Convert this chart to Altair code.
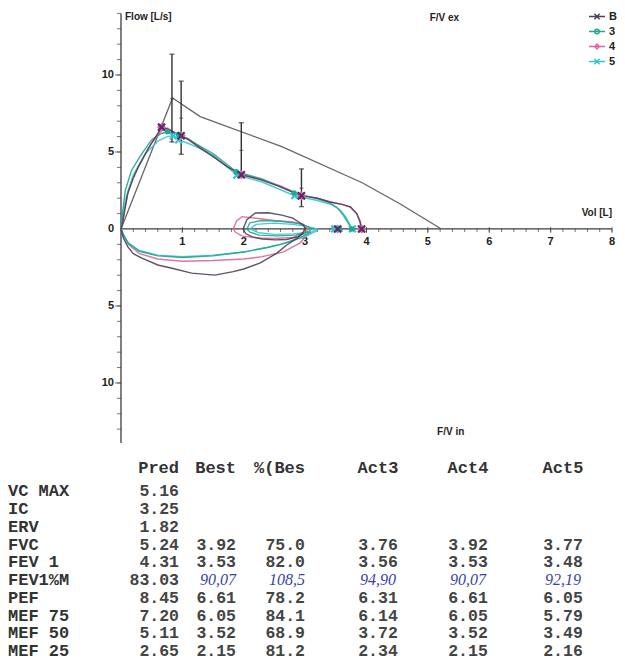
import altair as alt
import pandas as pd

# ---------------- data ----------------
SERIES = ["B", "3", "4", "5"]
SERIES_COLORS = ["#4f3f5a", "#1fa88a", "#e0649f", "#38c3d5"]
MARKER_COLORS = {"B": "#5a2a6a", "3": "#1fa88a", "4": "#e0649f", "5": "#38c3d5"}

# forced expiration (flow up)
EXP_VOL_B = [0, 0.02, 0.06, 0.11, 0.2, 0.28, 0.36, 0.44, 0.52, 0.6, 0.66, 0.75, 0.85, 0.98, 1.1, 1.29, 1.5, 1.73, 1.96, 2.27, 2.59, 2.94, 3.2, 3.4, 3.6, 3.74, 3.84, 3.89, 3.92]
EXP_FLOW_B = [0, 0.3, 1.2, 2.3, 3.3, 4.0, 4.6, 5.2, 5.7, 6.2, 6.61, 6.5, 6.3, 6.05, 5.8, 5.25, 4.7, 4.05, 3.52, 3.2, 2.75, 2.15, 2.0, 1.75, 1.6, 1.43, 1.0, 0.5, 0]
EXP_VOL_3 = [0, 0.03, 0.07, 0.17, 0.34, 0.5, 0.66, 0.76, 0.94, 1.1, 1.3, 1.5, 1.88, 2.3, 2.82, 3.2, 3.4, 3.52, 3.62, 3.7, 3.76]
EXP_FLOW_3 = [0, 1.2, 2.5, 3.8, 4.9, 5.8, 6.2, 6.31, 6.14, 5.8, 5.35, 4.9, 3.72, 3.25, 2.34, 1.95, 1.7, 1.4, 0.9, 0.4, 0]
EXP_VOL_4 = [0, 0.03, 0.07, 0.12, 0.2, 0.3, 0.4, 0.5, 0.6, 0.68, 0.76, 0.86, 0.98, 1.1, 1.3, 1.5, 1.75, 1.96, 2.3, 2.6, 2.94, 3.2, 3.42, 3.6, 3.74, 3.84, 3.9, 3.92]
EXP_FLOW_4 = [0, 0.5, 1.5, 2.5, 3.4, 4.2, 4.9, 5.6, 6.1, 6.45, 6.55, 6.3, 6.05, 5.85, 5.3, 4.75, 4.0, 3.55, 3.2, 2.8, 2.2, 2.0, 1.75, 1.6, 1.4, 1.0, 0.5, 0]
EXP_VOL_5 = [0, 0.03, 0.08, 0.2, 0.4, 0.6, 0.75, 0.85, 0.94, 1.1, 1.3, 1.5, 1.885, 2.3, 2.83, 3.2, 3.45, 3.58, 3.66, 3.72, 3.77]
EXP_FLOW_5 = [0, 0.9, 2.0, 3.5, 4.9, 5.7, 6.0, 6.05, 5.79, 5.55, 5.2, 4.8, 3.49, 3.05, 2.16, 1.85, 1.55, 1.2, 0.8, 0.35, 0]

# tidal breathing loops
TID_VOL_B = [1.99, 2.05, 2.19, 2.4, 2.62, 2.8, 2.89, 2.97, 3.0, 2.97, 2.89, 2.7, 2.51, 2.3, 2.13, 2.03, 1.99]
TID_FLOW_B = [0, 0.6, 1.04, 1.05, 0.9, 0.7, 0.47, 0.25, 0.06, -0.2, -0.5, -0.68, -0.71, -0.65, -0.5, -0.3, 0]
TID_VOL_3 = [2.05, 2.1, 2.3, 2.6, 2.9, 3.05, 3.1, 3.05, 2.85, 2.55, 2.25, 2.1, 2.05]
TID_FLOW_3 = [0, 0.4, 0.55, 0.5, 0.35, 0.15, 0, -0.2, -0.4, -0.45, -0.4, -0.2, 0]
TID_VOL_4 = [1.83, 1.88, 1.97, 2.2, 2.5, 2.8, 2.98, 3.05, 3.0, 2.8, 2.5, 2.2, 1.97, 1.86, 1.83]
TID_FLOW_4 = [0, 0.5, 0.8, 0.7, 0.55, 0.45, 0.3, 0, -0.3, -0.55, -0.62, -0.58, -0.45, -0.2, 0]
TID_VOL_5 = [2.1, 2.2, 2.5, 2.8, 3.05, 3.2, 3.1, 2.8, 2.5, 2.25, 2.1]
TID_FLOW_5 = [0, 0.3, 0.38, 0.3, 0.15, 0, -0.2, -0.32, -0.35, -0.25, 0]

# maximal inspiration (flow drawn downwards)
INS_VOL_B = [2.97, 2.87, 2.7, 2.54, 2.27, 2.0, 1.83, 1.53, 1.15, 0.83, 0.6, 0.34, 0.2, 0.11, 0.04, 0]
INS_FLOW_B = [-0.26, -0.6, -1.04, -1.57, -2.2, -2.6, -2.77, -3.0, -2.87, -2.55, -2.34, -1.9, -1.6, -1.15, -0.6, 0]
INS_VOL_3 = [3.1, 2.9, 2.6, 2.38, 2.0, 1.5, 1.0, 0.6, 0.3, 0.12, 0.04, 0]
INS_FLOW_3 = [-0.2, -0.6, -1.0, -1.2, -1.5, -1.75, -1.85, -1.75, -1.45, -0.95, -0.4, 0]
INS_VOL_4 = [3.05, 2.92, 2.64, 2.3, 2.0, 1.5, 1.0, 0.6, 0.3, 0.12, 0.04, 0]
INS_FLOW_4 = [-0.3, -0.9, -1.5, -1.8, -1.95, -2.05, -2.1, -1.95, -1.6, -1.0, -0.45, 0]
INS_VOL_5 = [3.2, 3.0, 2.7, 2.38, 2.0, 1.5, 1.0, 0.6, 0.3, 0.12, 0.04, 0]
INS_FLOW_5 = [-0.1, -0.5, -0.9, -1.2, -1.5, -1.7, -1.8, -1.7, -1.4, -0.9, -0.35, 0]

# markers (PEF, MEF75, MEF50, MEF25, FEV1, FVC)
MK_VOL = {"B": [0.66, 0.98, 1.96, 2.94, 3.53, 3.92],
          "3": [0.76, 0.94, 1.88, 2.82, 3.56, 3.76],
          "4": [0.66, 0.98, 1.96, 2.94, 3.53, 3.92],
          "5": [0.85, 0.94, 1.885, 2.83, 3.48, 3.77]}
MK_FLOW = {"B": [6.61, 6.05, 3.52, 2.15, 0, 0],
           "3": [6.31, 6.14, 3.72, 2.34, 0, 0],
           "4": [6.61, 6.05, 3.52, 2.15, 0, 0],
           "5": [6.05, 5.79, 3.49, 2.16, 0, 0]}

# predicted curve and its ranges
PRED_VOL = [0, 0.84, 1.29, 2.62, 3.93, 4.55, 5.22]
PRED_FLOW = [0, 8.5, 7.3, 5.35, 3.0, 1.62, 0]
EB_VOL = [0.83, 0.98, 1.96, 2.94]
EB_PRED = [8.45, 7.20, 5.11, 2.65]
EB_LO = [5.65, 4.85, 3.35, 1.45]
EB_HI = [11.35, 9.6, 6.9, 3.9]

# axes
X_MAJOR = [1, 2, 3, 4, 5, 6, 7, 8]
X_MINOR = [round(i * 0.2, 1) for i in range(1, 41)]
Y_MAJOR = [-10, -5, 0, 5, 10]
Y_MAJOR_LABELS = ["10", "5", "0", "5", "10"]
Y_MINOR = [v for v in range(-13, 15) if v != 0]

# table
ROW_NAMES = ["VC MAX", "IC", "ERV", "FVC", "FEV 1", "FEV1%M", "PEF", "MEF 75", "MEF 50", "MEF 25"]
COLUMNS = ["Pred", "Best", "%(Bes", "Act3", "Act4", "Act5"]
COL_PRED = ["5.16", "3.25", "1.82", "5.24", "4.31", "83.03", "8.45", "7.20", "5.11", "2.65"]
COL_BEST = ["", "", "", "3.92", "3.53", "90,07", "6.61", "6.05", "3.52", "2.15"]
COL_PCT = ["", "", "", "75.0", "82.0", "108,5", "78.2", "84.1", "68.9", "81.2"]
COL_ACT3 = ["", "", "", "3.76", "3.56", "94,90", "6.31", "6.14", "3.72", "2.34"]
COL_ACT4 = ["", "", "", "3.92", "3.53", "90,07", "6.61", "6.05", "3.52", "2.15"]
COL_ACT5 = ["", "", "", "3.77", "3.48", "92,19", "6.05", "5.79", "3.49", "2.16"]
HANDWRITTEN_ROW = "FEV1%M"

# ---------------- styling ----------------
SANS = "Liberation Sans"
MONO = "Liberation Mono"
AX = "#3c3c3c"
W, H = 491, 435
XS = alt.Scale(domain=[0, 8], nice=False, zero=False)
YS = alt.Scale(domain=[-13.9, 14.35], nice=False, zero=False)


def xy(xf="v", yf="f"):
    return dict(x=alt.X(f"{xf}:Q", scale=XS, axis=None),
                y=alt.Y(f"{yf}:Q", scale=YS, axis=None))


layers = []

# axis lines
layers.append(alt.Chart(pd.DataFrame({"v": [0], "f": [-13.9], "f2": [14.0]}))
              .mark_rule(color=AX, strokeWidth=1.3)
              .encode(**xy(), y2="f2:Q"))
layers.append(alt.Chart(pd.DataFrame({"v": [0], "v2": [8], "f": [0]}))
              .mark_rule(color=AX, strokeWidth=1.3)
              .encode(**xy(), x2="v2:Q"))
# ticks
layers.append(alt.Chart(pd.DataFrame({"f": Y_MINOR, "v": [0] * len(Y_MINOR)}))
              .mark_tick(orient="horizontal", size=4, thickness=1, xOffset=-2, color=AX)
              .encode(**xy()))
layers.append(alt.Chart(pd.DataFrame({"f": [-10, -5, 5, 10], "v": [0] * 4}))
              .mark_tick(orient="horizontal", size=6, thickness=1, xOffset=-3, color=AX)
              .encode(**xy()))
layers.append(alt.Chart(pd.DataFrame({"v": X_MINOR, "f": [0] * len(X_MINOR)}))
              .mark_tick(orient="vertical", size=3, thickness=1, yOffset=1.5, color=AX)
              .encode(**xy()))
layers.append(alt.Chart(pd.DataFrame({"v": X_MAJOR, "f": [0] * len(X_MAJOR)}))
              .mark_tick(orient="vertical", size=6, thickness=1, yOffset=1, color=AX)
              .encode(**xy()))
# tick labels
layers.append(alt.Chart(pd.DataFrame({"f": Y_MAJOR, "v": [0] * 5, "t": Y_MAJOR_LABELS}))
              .mark_text(align="right", baseline="middle", dx=-7, font=SANS, fontSize=11,
                         fontWeight="bold", color="#222")
              .encode(**xy(), text="t:N"))
layers.append(alt.Chart(pd.DataFrame({"v": X_MAJOR, "f": [0] * 8, "t": [str(v) for v in X_MAJOR]}))
              .mark_text(align="center", baseline="middle", dy=13, font=SANS, fontSize=11,
                         fontWeight="bold", color="#222")
              .encode(**xy(), text="t:N"))
# titles
TITLES = pd.DataFrame({
    "t": ["Flow [L/s]", "F/V ex", "F/V in"],
    "v": [0.065, 5.03, 5.15],
    "f": [13.75, 13.7, -13.18],
})
layers.append(alt.Chart(TITLES)
              .mark_text(align="left", baseline="middle", font=SANS, fontSize=10,
                         fontWeight="bold", color="#222")
              .encode(**xy(), text="t:N"))
layers.append(alt.Chart(pd.DataFrame({"t": ["Vol [L]"], "v": [8.0], "f": [1.04]}))
              .mark_text(align="right", baseline="middle", font=SANS, fontSize=10,
                         fontWeight="bold", color="#222")
              .encode(**xy(), text="t:N"))

# predicted line
layers.append(alt.Chart(pd.DataFrame({"v": PRED_VOL, "f": PRED_FLOW, "i": range(len(PRED_VOL))}))
              .mark_line(color="#6e6262", strokeWidth=1.3)
              .encode(**xy(), order="i:Q"))

# measured curves
CURVES = {
    "B": [(EXP_VOL_B, EXP_FLOW_B), (TID_VOL_B, TID_FLOW_B), (INS_VOL_B, INS_FLOW_B)],
    "3": [(EXP_VOL_3, EXP_FLOW_3), (TID_VOL_3, TID_FLOW_3), (INS_VOL_3, INS_FLOW_3)],
    "4": [(EXP_VOL_4, EXP_FLOW_4), (TID_VOL_4, TID_FLOW_4), (INS_VOL_4, INS_FLOW_4)],
    "5": [(EXP_VOL_5, EXP_FLOW_5), (TID_VOL_5, TID_FLOW_5), (INS_VOL_5, INS_FLOW_5)],
}
color_of = dict(zip(SERIES, SERIES_COLORS))
for s in ["4", "5", "3", "B"]:
    rows = []
    for seg, (vv, ff) in enumerate(CURVES[s]):
        for i, (v, f) in enumerate(zip(vv, ff)):
            rows.append({"v": v, "f": f, "seg": seg, "i": i})
    layers.append(alt.Chart(pd.DataFrame(rows))
                  .mark_line(color=color_of[s], strokeWidth=1.4, opacity=0.9)
                  .encode(**xy(), detail="seg:N", order="i:Q"))

# error bars on predicted values
EB = pd.DataFrame({"v": EB_VOL, "f": EB_LO, "f2": EB_HI, "p": EB_PRED})
layers.append(alt.Chart(EB).mark_rule(color="#333", strokeWidth=1.4).encode(**xy(), y2="f2:Q"))
layers.append(alt.Chart(EB).mark_tick(orient="horizontal", size=5, thickness=1.4, color="#333")
              .encode(**xy()))
layers.append(alt.Chart(EB).mark_tick(orient="horizontal", size=5, thickness=1.4, color="#333")
              .encode(**xy(yf="f2")))
layers.append(alt.Chart(EB).mark_tick(orient="horizontal", size=4, thickness=1, color="#333")
              .encode(**xy(yf="p")))

# markers
XPATH = "M-1,-1L1,1M-1,1L1,-1"
for s, shape, filled, size in [("4", "diamond", False, 36), ("5", XPATH, False, 45),
                               ("3", "circle", True, 30), ("B", XPATH, False, 50)]:
    layers.append(alt.Chart(pd.DataFrame({"v": MK_VOL[s], "f": MK_FLOW[s]}))
                  .mark_point(shape=shape, filled=filled, size=size, strokeWidth=2.2,
                              color=MARKER_COLORS[s], opacity=1)
                  .encode(**xy()))

# legend (from scales only, no drawn marks)
LEG_PATHS = [
    "M-1,0L1,0M-0.33,-0.33L0.33,0.33M-0.33,0.33L0.33,-0.33",
    "M-1,0L1,0M0.28,0A0.28,0.28 0 1,1 -0.28,0A0.28,0.28 0 1,1 0.28,0",
    "M-1,0L1,0M0,-0.3L0.3,0L0,0.3L-0.3,0Z",
    "M-1,0L1,0M-0.33,-0.33L0.33,0.33M-0.33,0.33L0.33,-0.33",
]
LEG = alt.Legend(title=None, orient="none", legendX=467, legendY=1, symbolSize=256,
                 symbolStrokeWidth=1.4, symbolOpacity=1, labelFont=SANS, labelFontSize=11,
                 labelFontWeight="bold", labelColor="#222", labelOffset=3, clipHeight=15,
                 rowPadding=0, padding=0)
layers.append(alt.Chart(pd.DataFrame({"s": SERIES, "v": [0] * 4, "f": [0] * 4}))
              .transform_filter("false")
              .mark_point(filled=False)
              .encode(**xy(),
                      color=alt.Color("s:N", scale=alt.Scale(domain=SERIES, range=SERIES_COLORS), legend=LEG),
                      shape=alt.Shape("s:N", scale=alt.Scale(domain=SERIES, range=LEG_PATHS), legend=LEG)))

plot = alt.layer(*layers).properties(width=W, height=H)

# ---------------- table ----------------
COL_X = {"label": -113, "Pred": 58, "Best": 115, "%(Bes": 184, "Act3": 257, "Act4": 347, "Act5": 442}
COL_ALIGN = {"label": "left", "Pred": "right", "Best": "right", "%(Bes": "right",
             "Act3": "center", "Act4": "center", "Act5": "center"}
HEADER_ROW = -1.3
col_values = dict(zip(COLUMNS, [COL_PRED, COL_BEST, COL_PCT, COL_ACT3, COL_ACT4, COL_ACT5]))

trows = []
for r, name in enumerate(ROW_NAMES):
    trows.append({"x": COL_X["label"], "r": r, "t": name, "a": "left", "k": "label"})
    for c in COLUMNS:
        txt = col_values[c][r]
        if txt:
            kind = "hand" if (name == HANDWRITTEN_ROW and c != "Pred") else "num"
            trows.append({"x": COL_X[c], "r": r, "t": txt, "a": COL_ALIGN[c], "k": kind})
for c in COLUMNS:
    trows.append({"x": COL_X[c], "r": HEADER_ROW, "t": c, "a": COL_ALIGN[c], "k": "label"})
TDF = pd.DataFrame(trows)

ROW_PX = 17.7
TX = alt.Scale(domain=[0, 488], nice=False, zero=False)
TY = alt.Scale(domain=[-2.0, 9.5], nice=False, zero=False, reverse=True)
TBL_H = round(11.5 * ROW_PX)

STYLE = {
    "label": dict(font=MONO, fontWeight="bold", fontSize=17, color="#333"),
    "num": dict(font=MONO, fontWeight="bold", fontSize=16.5, color="#444"),
    "hand": dict(font="Liberation Serif", fontStyle="italic", fontSize=16, color="#3b3fa6"),
}
tlayers = []
for align in ["left", "right", "center"]:
    for kind in ["label", "num", "hand"]:
        sub = TDF[(TDF["a"] == align) & (TDF["k"] == kind)]
        if sub.empty:
            continue
        mk = alt.Chart(sub).mark_text(align=align, baseline="middle", **STYLE[kind])
        tlayers.append(mk.encode(x=alt.X("x:Q", scale=TX, axis=None),
                                 y=alt.Y("r:Q", scale=TY, axis=None),
                                 text="t:N"))
table = alt.layer(*tlayers).properties(width=488, height=TBL_H)

chart = (alt.vconcat(plot, table, spacing=12)
         .properties(padding={"left": 0, "top": 0, "right": 0, "bottom": 0}, background="white")
         .configure_view(stroke=None))

chart.save("out.html", embed_options={"renderer": "svg", "actions": False})
